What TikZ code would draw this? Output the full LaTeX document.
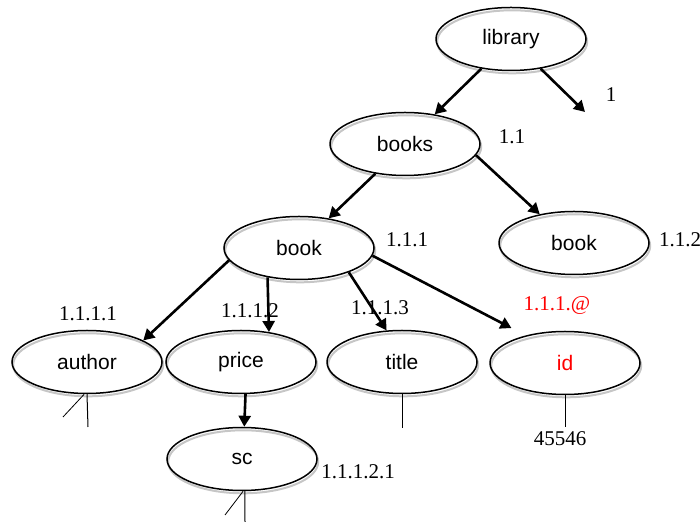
\documentclass[tikz,border=0pt]{standalone}
\usepackage{fontspec}
\setmainfont{Liberation Serif}
\setsansfont{Liberation Sans}
\usetikzlibrary{shapes.geometric, arrows.meta}

\begin{document}
\begin{tikzpicture}[x=0.5pt, y=-0.5pt,
    elem/.style={ellipse, draw, line width=0.75pt, minimum width=75pt, minimum height=31.5pt,
        inner sep=0pt, font=\sffamily\fontsize{10.5}{12}\selectfont,
        preaction={draw=gray!45, line width=1pt, transform canvas={shift={(0.6pt,-1.4pt)}}}},
    lbl/.style={font=\fontsize{10.5}{12}\selectfont, inner sep=0pt},
    arr/.style={-{Triangle[length=5.5pt, width=6pt]}, line width=1.3pt},
    leaf/.style={line width=0.5pt}]
    \useasboundingbox (0,0) rectangle (700,522);

    % Draw nodes
    \node[elem] (library) at (511,39) {library};
    \node[elem] (books) at (405,144) {books};
    \node[elem] (book1) at (299,248) {book};
    \node[elem] (book2) at (574,243) {book};
    \node[elem] (author) at (87,362) {author};
    \node[elem] (price) at (241,362) {price};
    \node[elem] (title) at (402,362) {title};
    \node[elem] (id) at (565,363) {\textcolor{red}{id}};
    \node[elem] (sc) at (242,459) {sc};

    % Free ends
    \coordinate (libend) at (585,112);
    \coordinate (authend) at (88,427);
    \coordinate (authdiag) at (63,417);
    \coordinate (titleend) at (402,428);
    \coordinate (idend) at (565,427);
    \coordinate (scend) at (245,522);
    \coordinate (scdiag) at (225,515);

    % Draw connections
    \draw[arr] (library.225) -- (books.45);
    \draw[arr] (library.315) -- (libend);
    \draw[arr] (books.225) -- (book1.45);
    \draw[arr] (books.351) -- (book2.140);
    \draw[arr] (book1.190) -- (author.21);
    \draw[arr] (book1.223) -- (price.47);
    \draw[arr] (book1.334) -- (title.116);
    \draw[arr, shorten >=8pt] (book1.354) -- (id.145);
    \draw[arr] (price.278) -- (sc.86);

    % Leaf lines
    \draw[leaf] (author.south) -- (authend);
    \draw[leaf, line width=0.4pt] (author.265) -- (authdiag);
    \draw[leaf] (title.south) -- (titleend);
    \draw[leaf] (id.south) -- (idend);
    \draw[leaf] (sc.275) -- (scend);
    \draw[leaf, line width=0.4pt] (sc.272) -- (scdiag);

    % Labels
    \node[lbl] (l1) at (611,95) {1};
    \node[lbl] (l11) at (512,137) {1.1};
    \node[lbl] (l111) at (407,240) {1.1.1};
    \node[lbl] (l112) at (680,240) {1.1.2};
    \node[lbl] (l1111) at (88,314) {1.1.1.1};
    \node[lbl] (l1112) at (250,311) {1.1.1.2};
    \node[lbl] (l1113) at (380,308) {1.1.1.3};
    \node[lbl, text=red] (l111at) at (557,306) {1.1.1.@};
    \node[lbl] (l11121) at (358,472) {1.1.1.2.1};
    \node[lbl] (val) at (560,439) {45546};
\end{tikzpicture}
\end{document}
